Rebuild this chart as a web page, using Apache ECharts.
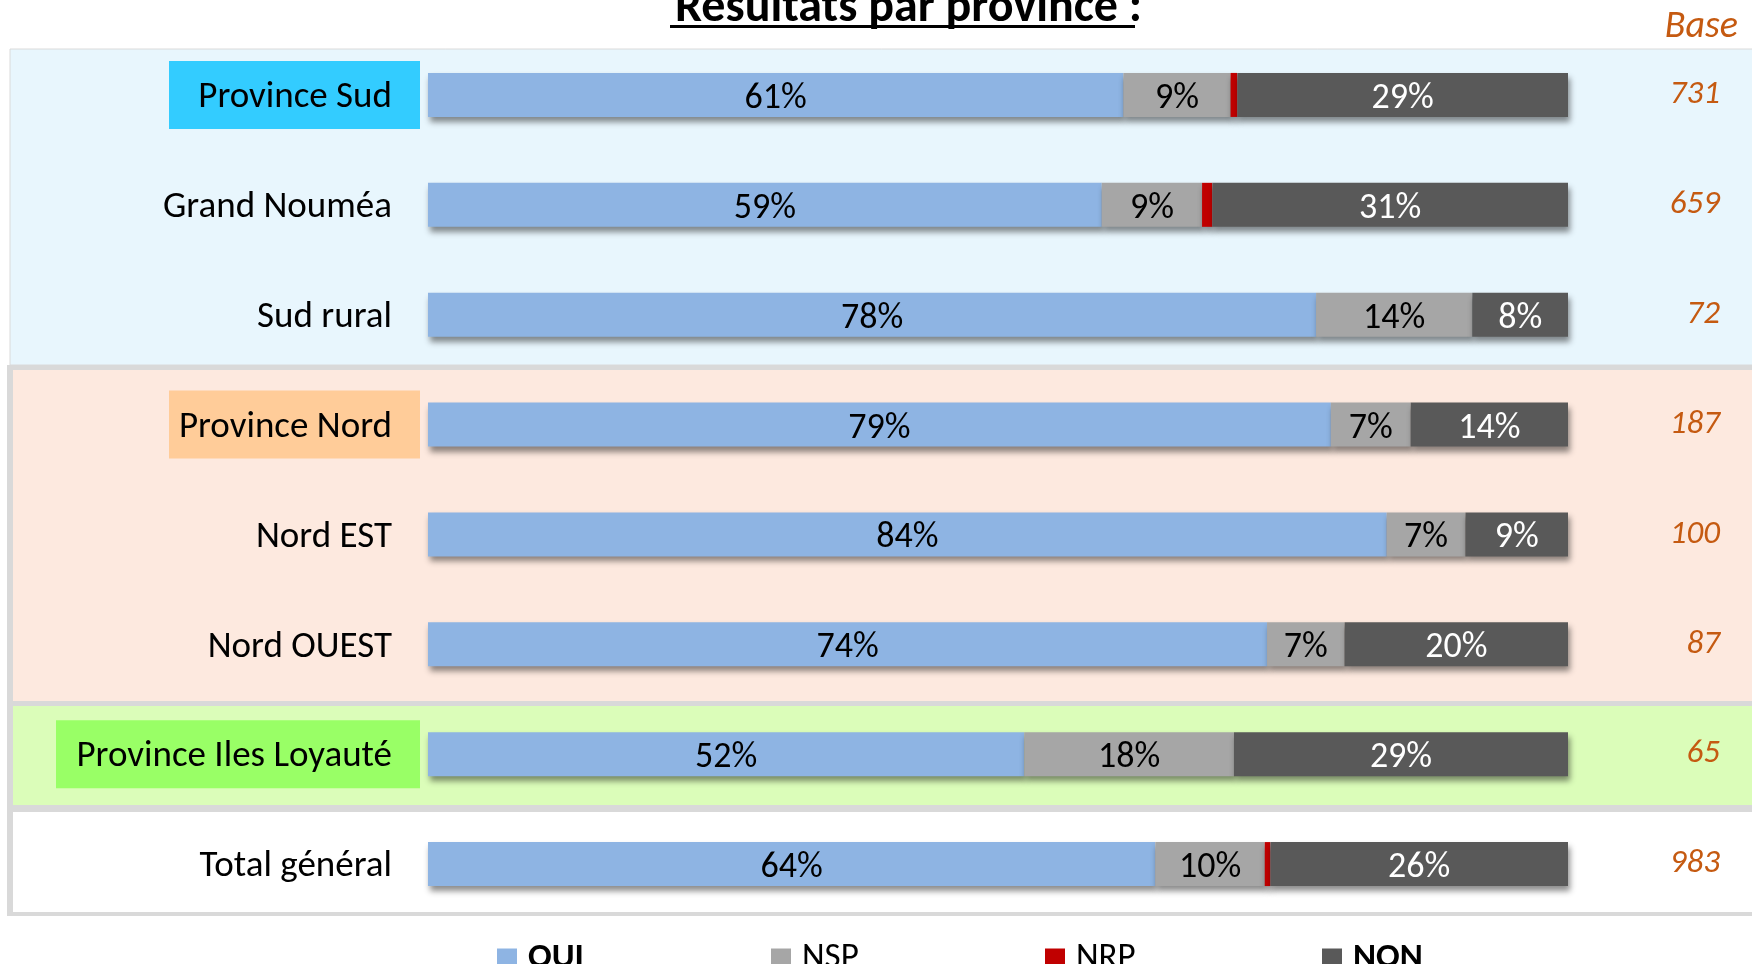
<!DOCTYPE html>
<html>
<head>
<meta charset="utf-8">
<script src="https://cdn.jsdelivr.net/npm/echarts@6/dist/echarts.min.js"></script>
<style>
  html, body { margin: 0; padding: 0; background: #fff; }
  #chart { width: 1752px; height: 964px; }
</style>
</head>
<body>
<div id="chart"></div>
<script>
const categories = ["Province Sud", "Grand Nouméa", "Sud rural", "Province Nord", "Nord EST", "Nord OUEST", "Province Iles Loyauté", "Total général"];
const oui = [61.0, 59.1, 77.9, 79.2, 84.1, 73.6, 52.3, 63.8];
const nsp = [9.4, 8.8, 13.7, 7.0, 6.9, 6.8, 18.4, 9.6];
const nrp = [0.6, 0.9, 0, 0, 0, 0, 0, 0.5];
const non = [29.0, 31.2, 8.4, 13.8, 9.0, 19.6, 29.3, 26.1];
const bases = [731, 659, 72, 187, 100, 87, 65, 983];

const FONT = "Carlito, Lato, sans-serif";
const LABEL_SIZE = 37;

// les trois provinces ont un fond coloré derrière le libellé
const boxStyle = {
  "Province Sud": "sud",
  "Province Nord": "nord",
  "Province Iles Loyauté": "iles",
};

const chart = echarts.init(document.getElementById("chart"), null, { renderer: "canvas" });

function barSeries(name, data, color, labelColor) {
  return {
    name: name,
    type: "bar",
    stack: "total",
    barWidth: 44,
    data: data,
    itemStyle: {
      color: color,
      shadowColor: "rgba(0,0,0,0.45)",
      shadowBlur: 6,
      shadowOffsetX: 2,
      shadowOffsetY: 5,
    },
    label: {
      show: labelColor != null,
      position: "inside",
      offset: [0, 4],
      color: labelColor || "#000",
      fontFamily: FONT,
      fontSize: 36,
      formatter: (p) => (p.value < 3 ? "" : Math.round(p.value) + "%"),
    },
  };
}

function legendItem(name, left, bold) {
  return {
    left: left,
    top: 941,
    padding: 0,
    icon: "rect",
    itemWidth: 20,
    itemHeight: 20,
    data: [name],
    selectedMode: false,
    textStyle: {
      fontFamily: FONT,
      fontSize: 35,
      fontWeight: bold ? "bold" : "normal",
      color: "#000",
      padding: [0, 0, 0, 6],
    },
  };
}

const boxRich = (bg, w) => ({
  fontFamily: FONT, fontSize: LABEL_SIZE, color: "#000",
  backgroundColor: bg, width: w, height: 62, lineHeight: 62,
  align: "right", padding: [6, 28, 0, 0],
});

const option = {
  backgroundColor: "#fff",
  animation: false,
  title: [
    {
      text: "Résultats par province :",
      left: 670,
      top: -20,
      textStyle: { fontFamily: FONT, fontSize: 48, fontWeight: "bold", color: "#000" },
    },
    {
      text: "Base",
      right: 9,
      top: 3,
      textStyle: { fontFamily: FONT, fontSize: 38, fontWeight: "normal", fontStyle: "italic", color: "#c55a11" },
    },
  ],
  graphic: [
    { type: "rect", z: -10, shape: { x: 10, y: 49, width: 1750, height: 316 }, style: { fill: "#e8f6fd", stroke: "#dadada", lineWidth: 1 } },
    { type: "rect", z: -10, shape: { x: 7, y: 365, width: 1760, height: 551 }, style: { fill: "#d9d9d9" } },
    { type: "rect", z: -9, shape: { x: 13, y: 370, width: 1750, height: 331 }, style: { fill: "#fde9df" } },
    { type: "rect", z: -9, shape: { x: 13, y: 706, width: 1750, height: 99 }, style: { fill: "#dbfdb9" } },
    { type: "rect", z: -9, shape: { x: 13, y: 812, width: 1750, height: 100 }, style: { fill: "#ffffff" } },
    { type: "rect", z: 10, shape: { x: 670, y: 25, width: 465, height: 3 }, style: { fill: "#000" } },
  ],
  legend: [
    legendItem("OUI", 497, true),
    legendItem("NSP", 771, false),
    legendItem("NRP", 1045, false),
    legendItem("NON", 1322, true),
  ],
  grid: { left: 428, right: 184, top: 40, height: 879 },
  xAxis: { type: "value", min: 0, max: 100, show: false },
  yAxis: [
    {
      type: "category",
      data: categories,
      inverse: true,
      axisLine: { show: false },
      axisTick: { show: false },
      axisLabel: {
        margin: 8,
        fontFamily: FONT,
        fontSize: LABEL_SIZE,
        color: "#000",
        formatter: (v) => "{" + (boxStyle[v] || "plain") + "|" + v + "}",
        rich: {
          plain: { fontFamily: FONT, fontSize: LABEL_SIZE, color: "#000", padding: [6, 28, 0, 0] },
          sud: boxRich("#33ccff", 223),
          nord: boxRich("#ffcc99", 223),
          iles: boxRich("#99ff66", 336),
        },
      },
    },
    {
      type: "category",
      data: bases,
      inverse: true,
      position: "right",
      axisLine: { show: false },
      axisTick: { show: false },
      axisLabel: {
        margin: 152,
        align: "right",
        fontFamily: FONT,
        fontSize: 33,
        fontStyle: "italic",
        color: "#c55a11",
      },
    },
  ],
  series: [
    barSeries("OUI", oui, "#8eb4e3", "#000"),
    barSeries("NSP", nsp, "#a6a6a6", "#000"),
    barSeries("NRP", nrp, "#c00000", null),
    barSeries("NON", non, "#595959", "#fff"),
  ],
};

chart.setOption(option);
</script>
</body>
</html>
